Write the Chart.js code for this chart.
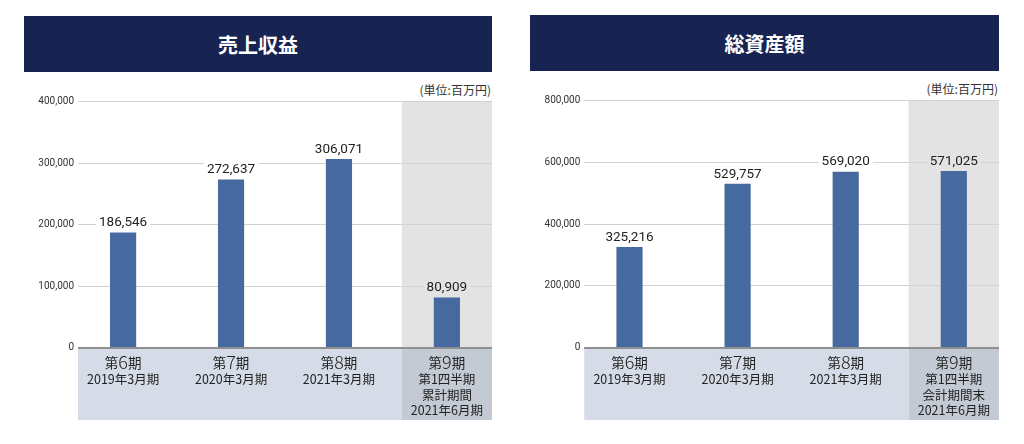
<!DOCTYPE html>
<html lang="ja">
<head>
<meta charset="utf-8">
<script src="https://cdn.jsdelivr.net/npm/chart.js@4.4.1/dist/chart.umd.min.js"></script>
<style>
  html, body { margin: 0; padding: 0; background: #ffffff; }
  body { width: 1024px; height: 444px; position: relative; overflow: hidden; font-family: "Noto Sans CJK JP", "Noto Sans", sans-serif; }
  .banner { position: absolute; background: #172350; color: #ffffff; font-weight: bold; font-size: 20px;
            display: flex; align-items: center; justify-content: center; letter-spacing: 0px; }
  .unit { position: absolute; font-size: 12px; color: #333; text-align: right; line-height: 14px; }
  canvas { position: absolute; top: 0; }
</style>
</head>
<body>
<div class="banner" style="left:24px;top:16px;width:468px;height:56px;">売上収益</div>
<div class="banner" style="left:530px;top:15px;width:469px;height:56px;">総資産額</div>
<div class="unit" style="left:370px;top:83px;width:121px;">(単位:百万円)</div>
<div class="unit" style="left:877px;top:82px;width:121px;">(単位:百万円)</div>
<canvas id="c1" width="512" height="444" style="left:0px;"></canvas>
<canvas id="c2" width="512" height="444" style="left:512px;"></canvas>
<script>
// ---- data ----
const periodPrefix = '第';
const periodNums = ['6', '7', '8', '9'];
const periodSuffix = '期';
const revenueSubLabels = [['2019年3月期'], ['2020年3月期'], ['2021年3月期'], ['第1四半期', '累計期間', '2021年6月期']];
const assetsSubLabels = [['2019年3月期'], ['2020年3月期'], ['2021年3月期'], ['第1四半期', '会計期間末', '2021年6月期']];
const revenueValues = [186546, 272637, 306071, 80909];
const assetsValues = [325216, 529757, 569020, 571025];
const revenueAxis = { max: 400000, step: 100000 };
const assetsAxis = { max: 800000, step: 200000 };

const HALF = 0.418;   // half category width (in category units)
const BAND_BOTTOM = 420;

const decorPlugin = {
  id: 'decor',
  beforeDraw(chart) {
    const { ctx, chartArea: a, scales: { x } } = chart;
    const n = chart.data.datasets[0].data.length;
    const sx = x.getPixelForValue(n - 1 - HALF);
    ctx.save();
    ctx.fillStyle = '#e3e3e3';
    ctx.fillRect(sx, a.top, a.right - sx, a.bottom - a.top);
    ctx.fillStyle = '#d5dce7';
    ctx.fillRect(a.left, a.bottom, sx - a.left, BAND_BOTTOM - a.bottom);
    ctx.fillStyle = '#c4cad4';
    ctx.fillRect(sx, a.bottom, a.right - sx, BAND_BOTTOM - a.bottom);
    ctx.restore();
  },
  afterDatasetsDraw(chart) {
    const { ctx, chartArea: a, scales: { x } } = chart;
    const opts = chart.options.plugins.decor;
    const values = opts.values;
    const subs = opts.subs;
    const meta = chart.getDatasetMeta(0);
    const n = values.length;
    ctx.save();
    // value labels
    meta.data.forEach((bar, i) => {
      const txt = values[i].toLocaleString('en-US');
      ctx.font = '13.5px Roboto';
      const w = ctx.measureText(txt).width;
      const cy = bar.y - 10.5;
      ctx.fillStyle = i === n - 1 ? '#e3e3e3' : '#ffffff';
      ctx.fillRect(bar.x - w / 2 - 3, cy - 8, w + 6, 16);
      ctx.fillStyle = '#222222';
      ctx.textAlign = 'center';
      ctx.textBaseline = 'middle';
      ctx.fillText(txt, bar.x, cy + 0.5);
    });
    // category labels
    for (let i = 0; i < n; i++) {
      const cx = x.getPixelForValue(i);
      ctx.textBaseline = 'alphabetic';
      ctx.textAlign = 'left';
      const fSmall = '13.5px "Noto Sans CJK JP"';
      const fBig = '300 18px "Noto Sans CJK JP"';
      ctx.font = fSmall;
      const wp = ctx.measureText(periodPrefix).width;
      const ws = ctx.measureText(periodSuffix).width;
      ctx.font = fBig;
      const wn = ctx.measureText(periodNums[i]).width;
      let sx = cx - (wp + wn + ws) / 2;
      const base = a.bottom + 20.5;
      ctx.fillStyle = '#222222';
      ctx.font = fSmall; ctx.fillText(periodPrefix, sx, base); sx += wp;
      ctx.font = fBig; ctx.fillText(periodNums[i], sx, base + 0.5); sx += wn;
      ctx.font = fSmall; ctx.fillText(periodSuffix, sx, base);
      ctx.font = '12.5px "Noto Sans CJK JP"';
      ctx.textAlign = 'center';
      ctx.textBaseline = 'middle';
      subs[i].forEach((s, k) => {
        ctx.fillText(s, cx, a.bottom + 32 + k * 15.4);
      });
    }
    ctx.restore();
  }
};

function makeChart(id, values, subs, axis, pad) {
  const n = values.length;
  return new Chart(document.getElementById(id), {
    type: 'bar',
    data: {
      datasets: [{
        data: values.map((v, i) => ({ x: i, y: v })),
        backgroundColor: '#46699f',
        borderWidth: 0,
        barThickness: 25.5
      }]
    },
    options: {
      responsive: false,
      animation: false,
      devicePixelRatio: 1,
      layout: { padding: { left: 0, right: pad.right, top: pad.top, bottom: pad.bottom } },
      plugins: {
        legend: { display: false },
        tooltip: { enabled: false },
        decor: { values: values, subs: subs }
      },
      scales: {
        x: {
          type: 'linear',
          offset: false,
          min: -HALF,
          max: n - 1 + HALF,
          display: false
        },
        y: {
          min: 0,
          max: axis.max,
          afterFit(s) { s.width = pad.left; },
          border: { display: false },
          grid: {
            drawTicks: false,
            color: c => c.tick && c.tick.value === 0 ? '#8f8f8f' : '#d2d2d2',
            lineWidth: c => c.tick && c.tick.value === 0 ? 2 : 1
          },
          ticks: {
            stepSize: axis.step,
            padding: 4,
            color: '#333333',
            font: { family: 'Roboto', size: 10 },
            callback: v => Number(v).toLocaleString('en-US')
          }
        }
      }
    },
    plugins: [decorPlugin]
  });
}

makeChart('c1', revenueValues, revenueSubLabels, revenueAxis, { left: 78, right: 20, top: 101.5, bottom: 96.3 });
makeChart('c2', assetsValues, assetsSubLabels, assetsAxis, { left: 72.3, right: 25, top: 100.7, bottom: 96.3 });
</script>
</body>
</html>
